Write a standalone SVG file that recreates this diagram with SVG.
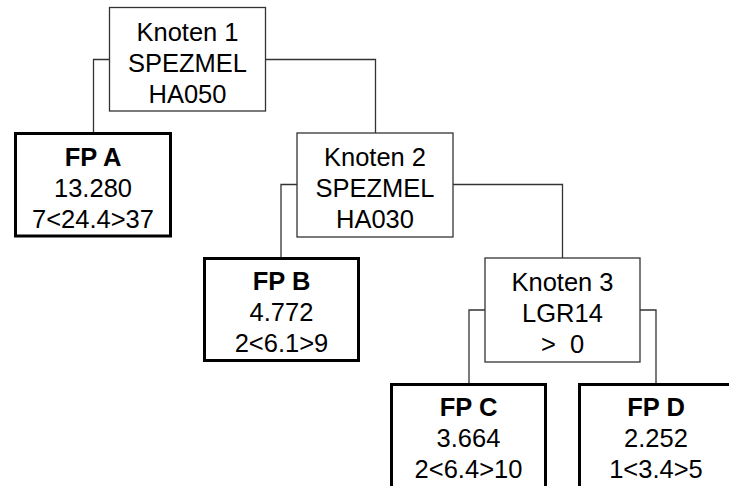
<svg xmlns="http://www.w3.org/2000/svg" width="729" height="486" viewBox="0 0 729 486">
<style>
.n{fill:#fff;stroke:#333;stroke-width:1.3}
.f{fill:#fff;stroke:#000;stroke-width:3}
.c{fill:none;stroke:#333;stroke-width:1.3}
text{font-family:"Liberation Sans",Arial,sans-serif;font-size:25.5px;fill:#000;text-anchor:middle}
.b{font-weight:bold}
</style>
<rect width="729" height="486" fill="#fff"/>
<g id="connectors">
<path class="c" d="M109.5,59.5 H93.5 V132"/>
<path class="c" d="M265.5,59.5 H375.5 V133"/>
<path class="c" d="M297,184.5 H281 V257"/>
<path class="c" d="M453,184.5 H562.5 V258"/>
<path class="c" d="M485,310 H469 V383"/>
<path class="c" d="M640,310 H656 V383"/>
</g>
<g id="knoten1">
<rect class="n" x="109.5" y="7.5" width="156" height="103.5"/>
<text x="187.5" y="41">Knoten 1</text>
<text x="187.5" y="72">SPEZMEL</text>
<text x="187.5" y="103">HA050</text>
</g>
<g id="fpA">
<rect class="f" x="15.5" y="133.5" width="155" height="102.5"/>
<text x="93" y="166" class="b">FP A</text>
<text x="93" y="197">13.280</text>
<text x="93" y="228">7&lt;24.4&gt;37</text>
</g>
<g id="knoten2">
<rect class="n" x="297" y="133" width="156" height="104"/>
<text x="375" y="166">Knoten 2</text>
<text x="375" y="197">SPEZMEL</text>
<text x="375" y="228">HA030</text>
</g>
<g id="fpB">
<rect class="f" x="204.5" y="258.5" width="154" height="102"/>
<text x="281.5" y="290" class="b">FP B</text>
<text x="281.5" y="321">4.772</text>
<text x="281.5" y="352">2&lt;6.1&gt;9</text>
</g>
<g id="knoten3">
<rect class="n" x="485" y="258" width="155" height="104"/>
<text x="562.5" y="291">Knoten 3</text>
<text x="562.5" y="322">LGR14</text>
<text x="562.5" y="353" xml:space="preserve">&gt;  0</text>
</g>
<g id="fpC">
<rect class="f" x="391.5" y="384.5" width="154" height="110"/>
<text x="468.5" y="416" class="b">FP C</text>
<text x="468.5" y="447">3.664</text>
<text x="468.5" y="478">2&lt;6.4&gt;10</text>
</g>
<g id="fpD">
<rect class="f" x="579.5" y="384.5" width="154" height="110"/>
<text x="656" y="416" class="b">FP D</text>
<text x="656" y="447">2.252</text>
<text x="656" y="478">1&lt;3.4&gt;5</text>
</g>
</svg>
